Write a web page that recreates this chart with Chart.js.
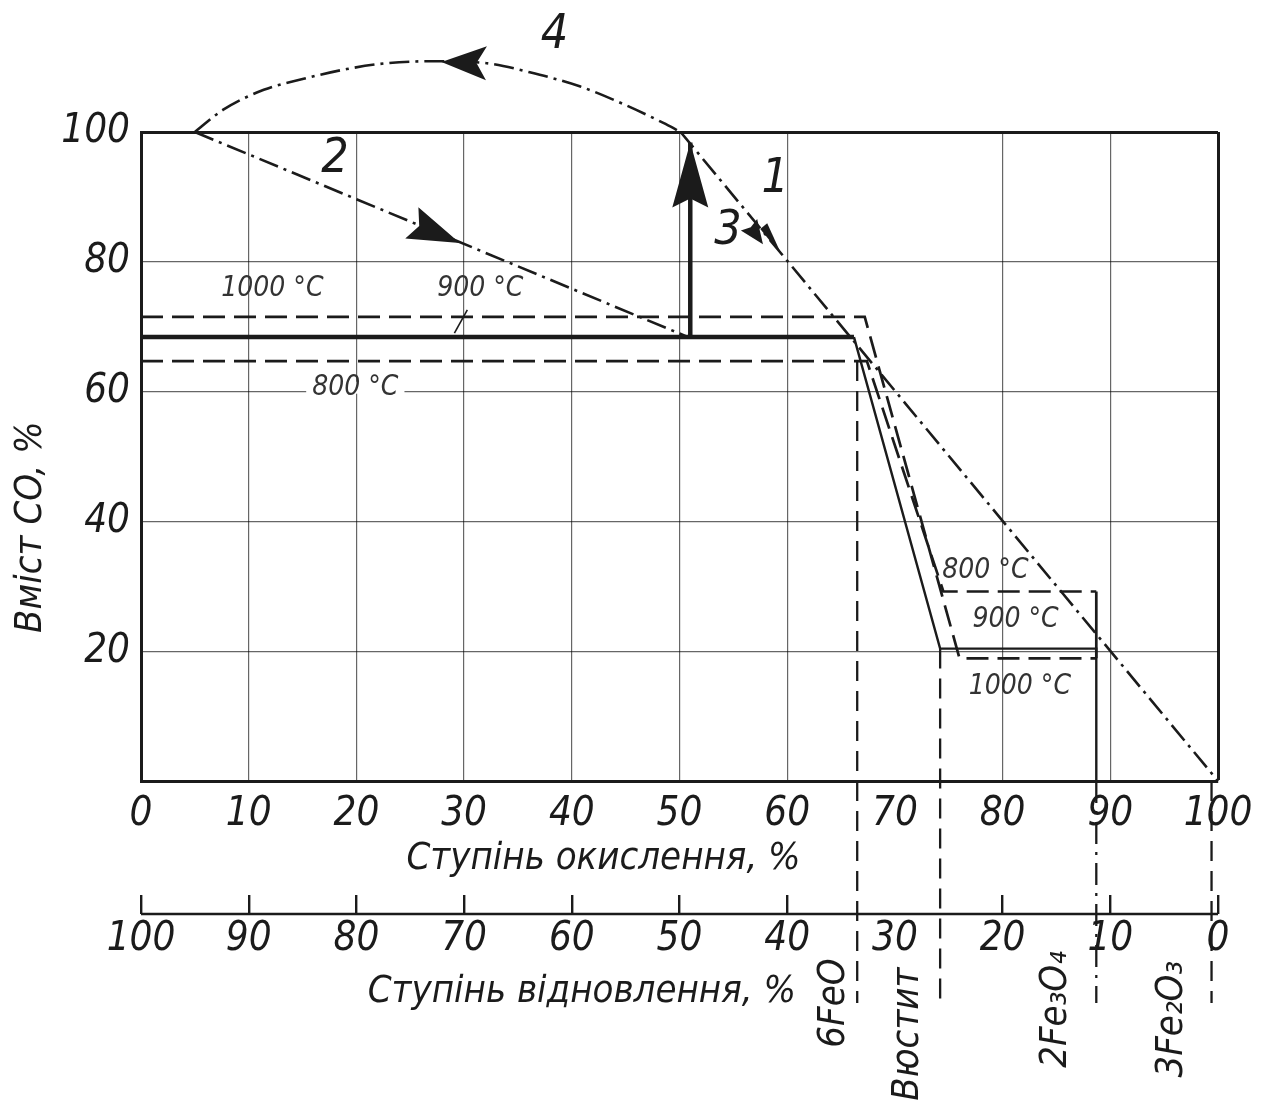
<!DOCTYPE html>
<html>
<head>
<meta charset="utf-8">
<script src="https://cdn.jsdelivr.net/npm/chart.js@4.4.1/dist/chart.umd.min.js"></script>
<style>
html,body{margin:0;padding:0;background:#fff;}
#wrap{position:relative;width:1263px;height:1112px;}
</style>
</head>
<body>
<div id="wrap"><canvas id="c"></canvas></div>
<script>
// ---------------- data ----------------
// x: ступінь окислення, %   y: вміст CO, %
const iso900X  = [0, 66.2, 74.2, 88.7, 88.7];
const iso900Y  = [68.4, 68.4, 20.4, 20.4, 0];
const iso1000X = [0, 67.2, 76.0, 88.7];
const iso1000Y = [71.5, 71.5, 18.9, 18.9];
const iso800X  = [0, 67.4, 74.5, 88.7];
const iso800Y  = [64.7, 64.7, 29.2, 29.2];
const boxEdgeX = [88.7, 88.7];
const boxEdgeY = [29.2, 18.9];

const path1X = [50.1, 100];
const path1Y = [100, 0];
const path2X = [5, 50.8];
const path2Y = [100, 68.4];
const path3X = [51.0, 51.0];
const path3Y = [68.4, 98.4];
const path4X = [5, 7.6, 11.4, 15.1, 19.1, 22.8, 27.1, 32.1, 36.1, 40.8, 44.8, 48.5, 50.1];
const path4Y = [100, 103.4, 106.5, 108.2, 109.7, 110.6, 110.9, 110.6, 109.2, 107.0, 104.3, 101.4, 100];

const leaderX = [29.1, 30.3];
const leaderY = [69.0, 72.6];

const phaseX       = [66.5, 74.2, 88.7, 99.4];
const phaseTopY    = [64.7, 20.4, 0, 0];
const phaseBottomY = -34.2;
const phaseNames   = ['6FeO', 'Вюстит', '2Fe₃O₄', '3Fe₂O₃'];
const phaseLabelX  = [64.4, 71.2, 85.0, 95.7];
const phaseLabelY  = [-34.2, -39.0, -35.2, -36.7];

const tempLabels = ['1000 °C', '900 °C', '800 °C', '800 °C', '900 °C', '1000 °C'];
const tempLabelX = [12.2, 31.5, 19.9, 78.4, 81.2, 81.6];
const tempLabelY = [75.9, 75.9, 60.6, 32.4, 24.8, 14.6];

const pathNumbers = ['1', '2', '3', '4'];
const pathNumberX = [58.9, 18.0, 54.5, 38.4];
const pathNumberY = [92.6, 95.7, 84.6, 114.9];

const arrowTipX  = [29.6, 27.9, 51.0, 57.75, 59.5];
const arrowTipY  = [82.9, 110.8, 98.4, 82.7, 81.0];
const arrowFromX = [5, 32.1, 51.0, 51.0, 50.1];
const arrowFromY = [100, 110.6, 68.4, 98.4, 100];

const hiddenOxGrid = 70;
const hiddenRedTick = 30;

// ---------------- styles ----------------
const FONT = "'Liberation Sans Narrow','DejaVu Sans Condensed','Liberation Sans',sans-serif";
const INK = '#1b1b1b';
const GRID = 'rgba(0,0,0,0.6)';
const NONE = 'rgba(0,0,0,0)';
const DASH = [22, 9];
const DASHDOT = [20, 6, 3, 6];

const pts = (xs, ys) => xs.map((x, i) => ({x: x, y: ys[i]}));

const measureCtx = document.createElement('canvas').getContext('2d');
function padTitle(text, shiftPx, size) {
  measureCtx.font = 'italic ' + size + 'px ' + FONT;
  const sw = measureCtx.measureText('\u00a0').width || 10;
  return text + '\u00a0'.repeat(Math.max(0, Math.round(2 * shiftPx / sw)));
}

function lineDs(data, opts) {
  return Object.assign({
    data: data, showLine: true, pointRadius: 0, pointHoverRadius: 0,
    borderColor: INK, backgroundColor: INK, borderWidth: 2.4, fill: false,
    tension: 0, clip: false, xAxisID: 'x', yAxisID: 'y'
  }, opts || {});
}

const datasets = [
  lineDs(pts(iso900X, iso900Y), {segment: {borderWidth: c => c.p0DataIndex === 0 ? 4.5 : 2.4}}),
  lineDs(pts(iso1000X, iso1000Y), {borderDash: DASH, borderWidth: 2.7}),
  lineDs(pts(iso800X, iso800Y), {borderDash: DASH, borderWidth: 2.7}),
  lineDs(pts(boxEdgeX, boxEdgeY), {borderWidth: 2.7}),
  lineDs(pts(path1X, path1Y), {borderDash: DASHDOT, borderWidth: 2.6}),
  lineDs(pts(path2X, path2Y), {borderDash: DASHDOT, borderWidth: 2.6}),
  lineDs(pts(path3X, path3Y), {borderWidth: 4.5}),
  lineDs(pts(path4X, path4Y), {borderDash: DASHDOT, borderWidth: 2.6, cubicInterpolationMode: 'monotone'}),
  lineDs(pts(leaderX, leaderY), {borderWidth: 1.6}),
];
phaseX.forEach((px, i) => {
  datasets.push(lineDs([{x: px, y: phaseTopY[i]}, {x: px, y: phaseBottomY}],
    {borderDash: i === 2 ? [22, 8, 3, 8] : [20, 10], borderWidth: 2.3}));
});

// ---------------- plugins ----------------
function head(ctx, tip, from, len, half, notch, side) {
  const dx = tip.x - from.x, dy = tip.y - from.y, L = Math.hypot(dx, dy) || 1;
  const ux = dx / L, uy = dy / L, nx = uy, ny = -ux;
  const bx = tip.x - ux * len, by = tip.y - uy * len;
  const mx = tip.x - ux * (len - notch), my = tip.y - uy * (len - notch);
  ctx.beginPath();
  ctx.moveTo(tip.x, tip.y);
  if (side === 'plus') {
    ctx.lineTo(bx + nx * half, by + ny * half);
    ctx.lineTo(mx, my);
  } else {
    ctx.lineTo(bx + nx * half, by + ny * half);
    ctx.lineTo(mx, my);
    ctx.lineTo(bx - nx * half, by - ny * half);
  }
  ctx.closePath();
  ctx.fill();
}
const arrowShapes = [
  {len: 52, half: 17, notch: 8},
  {len: 45, half: 17, notch: 10},
  {len: 65, half: 18, notch: 9},
  {len: 24, half: 10, notch: 3},
  {len: 34, half: 9, notch: 0, side: 'plus'},
];

const annotations = {
  id: 'annotations',
  afterDraw(chart) {
    const {ctx, scales} = chart;
    const x = scales.x, y = scales.y, x2 = scales.x2;
    const px = v => x.getPixelForValue(v), py = v => y.getPixelForValue(v);
    ctx.save();
    // baseline of the second (reduction) axis
    ctx.strokeStyle = INK; ctx.lineWidth = 2.6;
    const ay = x2.top + 19;
    ctx.beginPath(); ctx.moveTo(x2.left, ay); ctx.lineTo(x2.right, ay); ctx.stroke();

    // arrow heads
    ctx.fillStyle = INK;
    arrowTipX.forEach((tx, i) => {
      const s = arrowShapes[i];
      head(ctx, {x: px(tx), y: py(arrowTipY[i])},
        {x: px(arrowFromX[i]), y: py(arrowFromY[i])}, s.len, s.half, s.notch, s.side);
    });

    ctx.textAlign = 'center';
    ctx.textBaseline = 'middle';
    // temperature labels
    ctx.font = 'italic 28px ' + FONT;
    tempLabels.forEach((t, i) => {
      const cx = px(tempLabelX[i]), cy = py(tempLabelY[i]);
      if (i === 2) {
        const w = ctx.measureText(t).width + 12;
        ctx.fillStyle = '#fff';
        ctx.fillRect(cx - w / 2, cy - 6, w, 12);
      }
      ctx.fillStyle = '#333';
      ctx.fillText(t, cx, cy);
    });
    // path numbers
    ctx.fillStyle = INK;
    ctx.font = 'italic 48px ' + FONT;
    pathNumbers.forEach((t, i) => ctx.fillText(t, px(pathNumberX[i]), py(pathNumberY[i])));
    // phase names, vertical
    ctx.font = 'italic 38px ' + FONT;
    phaseNames.forEach((t, i) => {
      ctx.save();
      ctx.translate(px(phaseLabelX[i]), py(phaseLabelY[i]));
      ctx.rotate(-Math.PI / 2);
      ctx.fillText(t, 0, 0);
      ctx.restore();
    });
    ctx.restore();
  }
};

// ---------------- chart ----------------
const tickFont = {family: FONT, size: 40, style: 'italic'};
const titleFont = {family: FONT, size: 38, style: 'italic'};

new Chart(document.getElementById('c'), {
  type: 'scatter',
  data: {datasets: datasets},
  options: {
    responsive: true,
    maintainAspectRatio: false,
    animation: false,
    events: [],
    layout: {autoPadding: false, padding: {top: 132, right: 45, bottom: 0, left: 0}},
    plugins: {legend: {display: false}, tooltip: {enabled: false}},
    scales: {
      x: {
        type: 'linear', position: 'bottom', min: 0, max: 100,
        afterFit: s => { s.height = 114; },
        ticks: {stepSize: 10, font: tickFont, color: INK, padding: 10, maxRotation: 0, autoSkip: false},
        grid: {
          drawTicks: false,
          color: c => (c.tick && c.tick.value === hiddenOxGrid) ? NONE : (c.tick && c.tick.value === 100 ? INK : GRID),
          lineWidth: c => (c.tick && c.tick.value === 100) ? 3 : 1.2
        },
        border: {display: true, color: INK, width: 3},
        title: {display: true, text: padTitle('Ступінь окислення, %', 75, 38), font: titleFont, color: INK, padding: {top: 0, bottom: 13}}
      },
      x2: {
        type: 'linear', position: 'bottom', min: 0, max: 100, reverse: true,
        afterFit: s => { s.height = 217; },
        ticks: {stepSize: 10, font: tickFont, color: INK, padding: 2, maxRotation: 0, autoSkip: false},
        grid: {
          drawOnChartArea: false, drawTicks: true, tickLength: 19, lineWidth: 2.4,
          color: c => (c.tick && c.tick.value === hiddenRedTick) ? NONE : INK
        },
        border: {display: false},
        title: {display: true, text: padTitle('Ступінь відновлення, %', 97, 38), font: titleFont, color: INK, padding: {top: 0, bottom: 97}}
      },
      y: {
        type: 'linear', position: 'left', min: 0, max: 100,
        afterFit: s => { s.width = 141; },
        ticks: {stepSize: 20, font: tickFont, color: INK, padding: 11, callback: v => v === 0 ? '' : v},
        grid: {
          drawTicks: false,
          color: c => (c.tick && c.tick.value === 100) ? INK : GRID,
          lineWidth: c => (c.tick && c.tick.value === 100) ? 3 : 1.2
        },
        border: {display: true, color: INK, width: 3},
        title: {display: true, text: padTitle('Вміст CO, %', 68, 38), font: titleFont, color: INK, padding: {top: 8, bottom: 0}}
      }
    }
  },
  plugins: [annotations]
});
</script>
</body>
</html>
